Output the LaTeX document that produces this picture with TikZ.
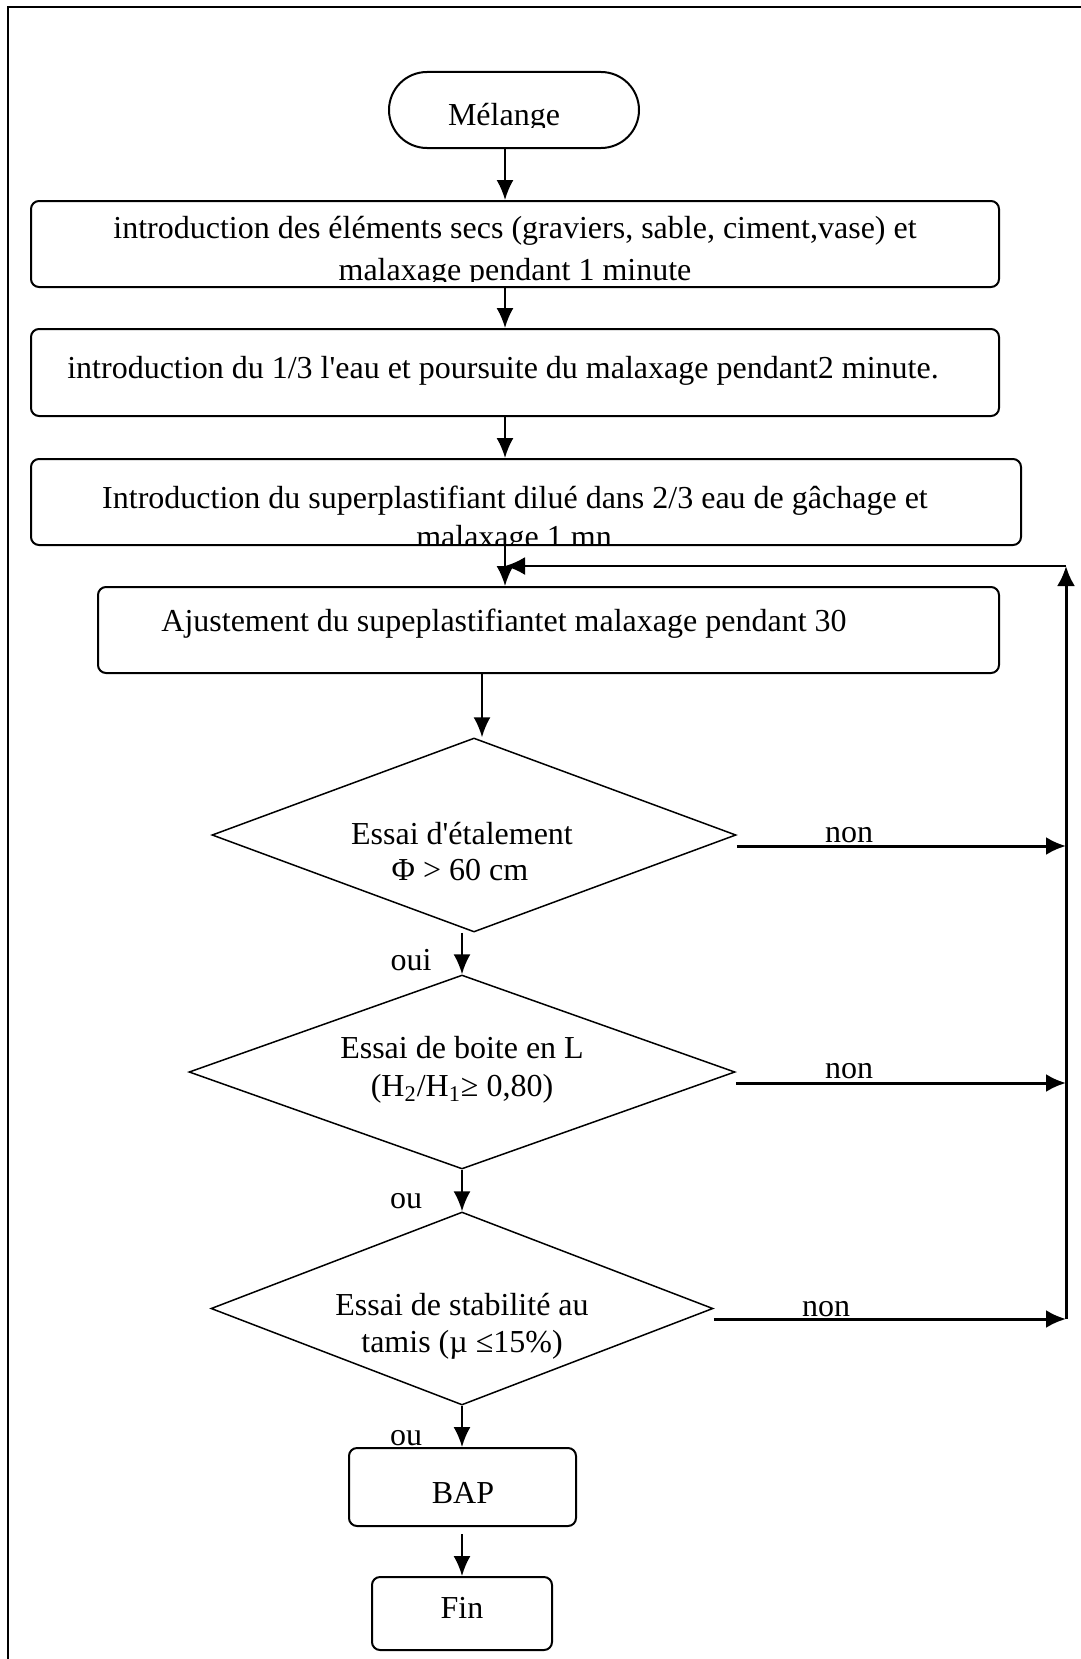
\documentclass[tikz,border=0pt]{standalone}
\usepackage{fontspec}
\setmainfont{Liberation Serif}
\usetikzlibrary{arrows.meta,shapes.geometric}
\begin{document}
\begin{tikzpicture}[x=0.5pt,y=-0.5pt,
  font=\fontsize{16pt}{19.5pt}\selectfont,
  stepbox/.style={draw,line width=1pt,rounded corners=4pt,inner sep=0pt},
  decision/.style={draw,diamond,line width=0.75pt,inner sep=0pt},
  txt/.style={anchor=base,inner sep=0pt},
  flow/.style={line width=1pt,-{Latex[length=10pt,width=8.5pt]}},
  back/.style={line width=1.5pt,-{Latex[length=10pt,width=9pt]}},
]
\useasboundingbox (0,0) rectangle (1081,1659);
% page frame
\draw[line width=1pt] (8,1659) -- (8,7) -- (1081,7);

% columns and rail of the flow
\coordinate (col1) at (505,0);
\coordinate (col2) at (482,0);
\coordinate (col3) at (462,0);
\coordinate (railtop) at (1066,566);
\coordinate (railbot) at (1066,1319);

% boxes
\node[stepbox,rounded corners=19pt,minimum width=125pt,minimum height=38pt] (start) at (514,110) {};
\node[stepbox,minimum width=484pt,minimum height=43pt] (box1) at (515,244) {};
\node[stepbox,minimum width=484pt,minimum height=43.5pt] (box2) at (515,372.5) {};
\node[stepbox,minimum width=495pt,minimum height=43pt] (box3) at (526,502) {};
\node[stepbox,minimum width=450.5pt,minimum height=43pt] (box4) at (548.5,630) {};
\node[decision,minimum width=262pt,minimum height=97pt] (d1) at (474,835) {};
\node[decision,minimum width=273pt,minimum height=97pt] (d2) at (462,1072) {};
\node[decision,minimum width=251pt,minimum height=96.5pt] (d3) at (462,1308.5) {};
\node[stepbox,minimum width=113.5pt,minimum height=39pt] (bap) at (462.5,1487) {};
\node[stepbox,minimum width=90pt,minimum height=36.5pt] (fin) at (462,1613.5) {};

% texts (some are cut by their box)
\begin{scope}
  \clip (start.west |- 0,60) rectangle (start.east |- 0,128);
  \node[txt] (tstart) at (504,126) {Mélange};
\end{scope}
\node[txt] (t1a) at (515,238) {introduction des éléments secs (graviers, sable, ciment,vase) et};
\begin{scope}
  \clip (box1.west |- 0,250) rectangle (box1.east |- 0,281.5);
  \node[txt] (t1b) at (515,280) {malaxage pendant 1 minute};
\end{scope}
\node[txt] (t2) at (503,378) {introduction du 1/3 l\textquotesingle eau et poursuite du malaxage pendant2 minute.};
\node[txt] (t3a) at (515,508) {Introduction du superplastifiant dilué dans 2/3 eau de gâchage et};
\begin{scope}
  \clip (box3.west |- 0,515) rectangle (box3.east |- 0,544);
  \node[txt] (t3b) at (514,547) {malaxage 1 mn};
\end{scope}
\node[txt] (t4) at (504,631) {Ajustement du supeplastifiantet malaxage pendant 30};
\node[txt] (td1a) at (462,844) {Essai d\textquotesingle étalement};
\node[txt] (td1b) at (460,880) {Φ > 60 cm};
\node[txt] (td2a) at (462,1058) {Essai de boite en L};
\node[txt] (td2b) at (462,1096) {(H\textsubscript{2}/H\textsubscript{1}≥ 0,80)};
\node[txt] (td3a) at (462,1315) {Essai de stabilité au};
\node[txt] (td3b) at (462,1352) {tamis (µ ≤15\%)};
\node[txt] (tbap) at (463,1503) {BAP};
\node[txt] (tfin) at (462,1618) {Fin};
\node[txt] (non1) at (849,842) {non};
\node[txt] (non2) at (849,1078) {non};
\node[txt] (non3) at (826,1316) {non};
\node[txt] (oui) at (411,970) {oui};
\node[txt] (ou1) at (406,1208) {ou};
\node[txt] (ou2) at (406,1445) {ou};

% main flow
\draw[flow] (col1 |- start.south) -- (col1 |- box1.north);
\draw[flow] (col1 |- box1.south) -- (col1 |- box2.north);
\draw[flow] (col1 |- box2.south) -- (col1 |- box3.north);
\draw[flow] (col1 |- box3.south) -- (col1 |- box4.north);
\draw[flow] (col2 |- box4.south) -- (col2 |- d1.north);
\draw[flow] (col3 |- d1.south) -- (col3 |- d2.north);
\draw[flow] (col3 |- d2.south) -- (col3 |- d3.north);
\draw[flow] (col3 |- d3.south) -- (col3 |- bap.north);
\draw[flow,shorten <=3.5pt] (col3 |- bap.south) -- (col3 |- fin.north);

% "non" branches back to the adjustment step
\draw[back] ([yshift=-5.5pt]d1.east) -- ([yshift=-5.5pt]d1.east -| railtop);
\draw[back] ([yshift=-5.5pt]d2.east) -- ([yshift=-5.5pt]d2.east -| railtop);
\draw[back] ([yshift=-5.25pt]d3.east) -- (railbot);
\draw[back] (railbot) -- (railtop);
\draw[back,line width=1.2pt] (railtop) -- (col1 |- railtop);
\end{tikzpicture}
\end{document}
